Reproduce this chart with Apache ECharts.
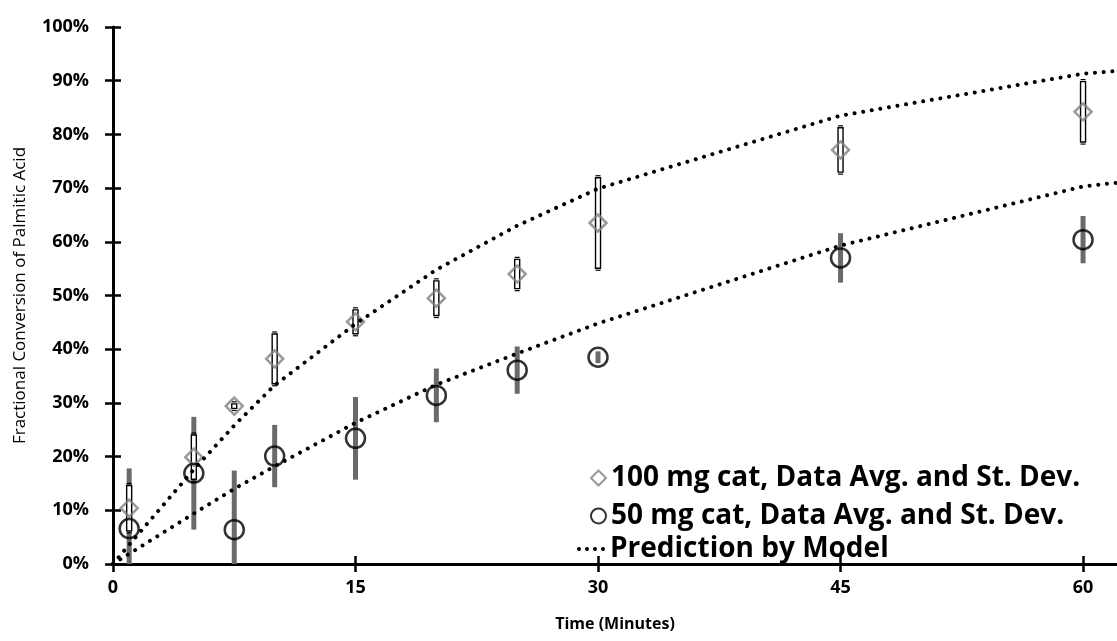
<!DOCTYPE html>
<html>
<head>
<meta charset="utf-8">
<script src="https://cdn.jsdelivr.net/npm/echarts@6/dist/echarts.min.js"></script>
<style>
  html, body { margin: 0; padding: 0; background: #fff; }
  #chart { width: 1117px; height: 641px; }
</style>
</head>
<body>
<div id="chart"></div>
<script>
// Sampling times (minutes) for the measured conversions
const times = [1, 5, 7.5, 10, 15, 20, 25, 30, 45, 60];

// 100 mg catalyst: average conversion (%) and standard deviation (%)
const avg100 = [10.4, 19.9, 29.4, 38.2, 45.1, 49.5, 54.0, 63.5, 77.1, 84.2];
const sd100  = [4.6, 4.5, 0.8, 5.0, 2.6, 3.6, 3.1, 8.8, 4.5, 6.0];

// 50 mg catalyst: average conversion (%) and standard deviation (%)
const avg50 = [6.6, 16.9, 6.4, 20.1, 23.4, 31.4, 36.1, 38.5, 57.0, 60.4];
const sd50  = [11.2, 10.5, 11.0, 5.8, 7.7, 5.0, 4.4, 1.1, 4.6, 4.4];

// Model predictions (%)
const modelTime = [0, 1, 5, 7.5, 10, 15, 20, 25, 30, 45, 60, 75];
const model100  = [0, 3.6, 17.6, 25.8, 33.3, 44.7, 54.8, 63.0, 69.9, 83.5, 91.3, 95.0];
const model50   = [0, 1.9, 9.4, 14.0, 18.2, 26.3, 33.4, 39.2, 44.8, 59.3, 70.3, 75.3];

// Axis ticks
const xTicks = [0, 15, 30, 45, 60];
const yTicks = [0, 10, 20, 30, 40, 50, 60, 70, 80, 90, 100];

const NAME100 = '100 mg cat, Data Avg. and St. Dev.';
const NAME50 = '50 mg cat, Data Avg. and St. Dev.';
const NAMEMODEL = 'Prediction by Model';

const FONT = "'Open Sans', 'Noto Sans', sans-serif";

const pts100 = times.map((t, i) => [t, avg100[i], sd100[i]]);
const pts50 = times.map((t, i) => [t, avg50[i], sd50[i]]);
const line100 = modelTime.map((t, i) => [t, model100[i]]);
const line50 = modelTime.map((t, i) => [t, model50[i]]);

// Thick grey error bar for the 50 mg series
function renderBar50(params, api) {
  const x = api.value(0), m = api.value(1), s = api.value(2);
  const top = api.coord([x, m + s]);
  const bot = api.coord([x, Math.max(m - s, 0)]);
  return {
    type: 'line',
    shape: { x1: top[0], y1: top[1], x2: bot[0], y2: bot[1] },
    style: { stroke: '#6a6a6a', lineWidth: 5, lineCap: 'butt' }
  };
}

// Hollow double-line error bar for the 100 mg series
function renderBar100(params, api) {
  const x = api.value(0), m = api.value(1), s = api.value(2);
  const top = api.coord([x, m + s]);
  const bot = api.coord([x, Math.max(m - s, 0)]);
  const cx = top[0], w = 5;
  const h = Math.max(bot[1] - top[1] - 4, 1);
  return {
    type: 'group',
    children: [
      { type: 'rect', shape: { x: cx - w / 2, y: top[1] + 2, width: w, height: h },
        style: { fill: '#fff', stroke: '#000', lineWidth: 1.4 } },
      { type: 'line', shape: { x1: cx - w / 2, y1: top[1], x2: cx + w / 2, y2: top[1] },
        style: { stroke: '#000', lineWidth: 1.2 } },
      { type: 'line', shape: { x1: cx - w / 2, y1: bot[1], x2: cx + w / 2, y2: bot[1] },
        style: { stroke: '#000', lineWidth: 1.2 } }
    ]
  };
}

const dotted = { color: '#000', width: 4, type: [0.01, 8.7], cap: 'round' };
const labelStyle = { color: '#000', fontFamily: FONT, fontWeight: 'bold', fontSize: 18 };
const legendText = { color: '#000', fontFamily: FONT, fontWeight: 'bold', fontSize: 28, lineHeight: 32 };

const chart = echarts.init(document.getElementById('chart'), null, { renderer: 'canvas' });

chart.setOption({
  animation: false,
  backgroundColor: '#fff',
  grid: { left: 113, right: 0, top: 27, bottom: 77, containLabel: false },
  legend: [
    { left: 590, top: 462, padding: 0, selectedMode: false, itemWidth: 15, itemHeight: 15,
      textStyle: legendText,
      data: [{ name: NAME100, icon: 'diamond',
               itemStyle: { color: 'rgba(0,0,0,0)', borderColor: '#808080', borderWidth: 2 } }] },
    { left: 590, top: 500, padding: 0, selectedMode: false, itemWidth: 15, itemHeight: 15,
      textStyle: legendText,
      data: [{ name: NAME50, icon: 'circle',
               itemStyle: { color: 'rgba(0,0,0,0)', borderColor: '#000', borderWidth: 2 } }] },
    { left: 577, top: 533, padding: 0, selectedMode: false, itemWidth: 28, itemHeight: 4,
      textStyle: legendText,
      data: [{ name: NAMEMODEL,
               icon: 'path://M0,2a2,2 0 1,0 4,0a2,2 0 1,0 -4,0zM8,2a2,2 0 1,0 4,0a2,2 0 1,0 -4,0zM16,2a2,2 0 1,0 4,0a2,2 0 1,0 -4,0zM24,2a2,2 0 1,0 4,0a2,2 0 1,0 -4,0z',
               itemStyle: { color: '#000', borderWidth: 0 } }] }
  ],
  xAxis: [
    {
      type: 'value', min: 0, max: 62.1, interval: 15,
      name: 'Time (Minutes)', nameLocation: 'middle', nameGap: 52,
      nameTextStyle: { color: '#000', fontFamily: FONT, fontWeight: 'bold', fontSize: 16 },
      axisLine: { show: true, lineStyle: { color: '#000', width: 3 } },
      axisTick: { show: true, length: 8, customValues: xTicks, lineStyle: { color: '#000', width: 2.5 } },
      axisLabel: { margin: 15, customValues: xTicks, ...labelStyle },
      splitLine: { show: false }
    },
    {
      type: 'value', min: 0, max: 62.1, interval: 15, position: 'bottom',
      axisLine: { show: false },
      axisTick: { show: true, inside: true, length: 8, customValues: xTicks, lineStyle: { color: '#000', width: 2.5 } },
      axisLabel: { show: false },
      splitLine: { show: false }
    }
  ],
  yAxis: [
    {
      type: 'value', min: 0, max: 100, interval: 10,
      name: 'Fractional Conversion of Palmitic Acid', nameLocation: 'middle', nameGap: 84,
      nameTextStyle: { color: '#000', fontFamily: FONT, fontSize: 17 },
      axisLine: { show: true, lineStyle: { color: '#000', width: 3 } },
      axisTick: { show: true, length: 8, customValues: yTicks, lineStyle: { color: '#000', width: 2.5 } },
      axisLabel: { margin: 24, formatter: '{value}%', customValues: yTicks, ...labelStyle },
      splitLine: { show: false }
    },
    {
      type: 'value', min: 0, max: 100, interval: 10, position: 'left',
      axisLine: { show: false },
      axisTick: { show: true, inside: true, length: 8, customValues: yTicks, lineStyle: { color: '#000', width: 2.5 } },
      axisLabel: { show: false },
      splitLine: { show: false }
    }
  ],
  series: [
    { type: 'custom', name: 'err50', data: pts50, renderItem: renderBar50, z: 1,
      encode: { x: 0, y: 1 }, silent: true },
    { type: 'custom', name: 'err100', data: pts100, renderItem: renderBar100, z: 2,
      encode: { x: 0, y: 1 }, silent: true },
    { type: 'scatter', name: NAME100, data: pts100.map(p => [p[0], p[1]]), z: 3,
      symbol: 'diamond', symbolSize: 17,
      itemStyle: { color: 'rgba(0,0,0,0)', borderColor: '#808080', borderWidth: 2.5 } },
    { type: 'scatter', name: NAME50, data: pts50.map(p => [p[0], p[1]]), z: 4,
      symbol: 'circle', symbolSize: 19,
      itemStyle: { color: 'rgba(0,0,0,0)', borderColor: '#000', borderWidth: 2.5 } },
    { type: 'line', name: NAMEMODEL, data: line100, z: 5, symbol: 'none',
      lineStyle: dotted, clip: true },
    { type: 'line', name: NAMEMODEL, data: line50, z: 5, symbol: 'none',
      lineStyle: dotted, clip: true }
  ]
});
</script>
</body>
</html>
